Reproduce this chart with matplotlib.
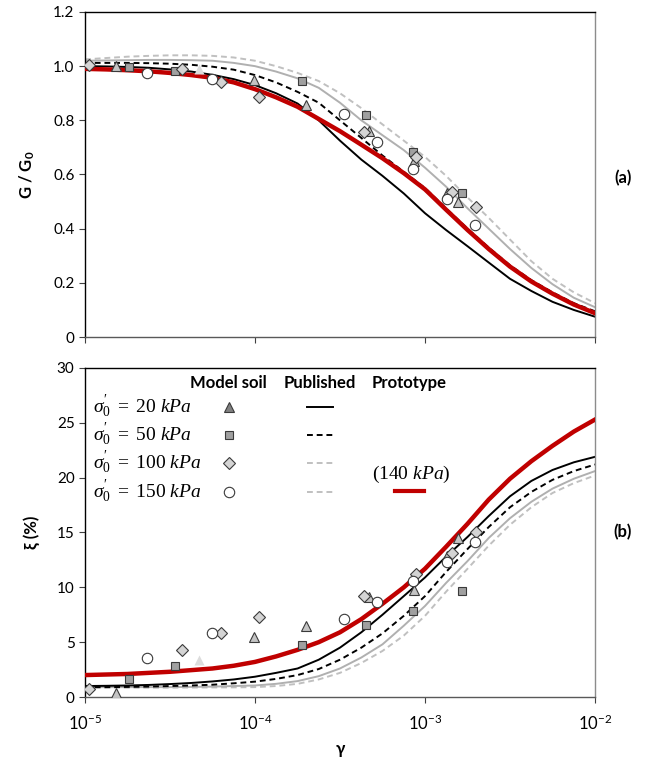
import numpy as np
import matplotlib
matplotlib.use("Agg")
import matplotlib.pyplot as plt

plt.rcParams['font.family'] = ['Lato', 'DejaVu Sans']
plt.rcParams['mathtext.fontset'] = 'custom'
plt.rcParams['mathtext.rm'] = 'Liberation Serif'
plt.rcParams['mathtext.it'] = 'Liberation Serif:italic'
plt.rcParams['mathtext.bf'] = 'Lato:bold'

# ---- data -------------------------------------------------------------
# strain grid for the published / prototype curves (1/8 decades)
gam_curve = [1e-5, 1.33e-5, 1.78e-5, 2.37e-5, 3.16e-5, 4.22e-5, 5.62e-5, 7.5e-5,
             1e-4, 1.33e-4, 1.78e-4, 2.37e-4, 3.16e-4, 4.22e-4, 5.62e-4, 7.5e-4,
             1e-3, 1.33e-3, 1.78e-3, 2.37e-3, 3.16e-3, 4.22e-3, 5.62e-3, 7.5e-3, 1e-2]

# G/G0 curves
g_pub20 = [1.000, 0.999, 0.997, 0.994, 0.988, 0.980, 0.968, 0.952, 0.930, 0.900,
           0.862, 0.800, 0.725, 0.655, 0.595, 0.530, 0.457, 0.395, 0.335, 0.275,
           0.215, 0.170, 0.130, 0.100, 0.075]
g_pub50 = [1.012, 1.012, 1.012, 1.011, 1.009, 1.005, 0.998, 0.987, 0.967, 0.940,
           0.905, 0.865, 0.800, 0.735, 0.670, 0.610, 0.550, 0.475, 0.400, 0.330,
           0.265, 0.210, 0.165, 0.125, 0.095]
g_pub100 = [1.020, 1.021, 1.022, 1.023, 1.023, 1.022, 1.020, 1.012, 1.000, 0.980,
            0.955, 0.920, 0.865, 0.800, 0.745, 0.690, 0.625, 0.555, 0.475, 0.400,
            0.325, 0.255, 0.195, 0.145, 0.110]
g_pub150 = [1.025, 1.030, 1.035, 1.038, 1.040, 1.040, 1.038, 1.032, 1.020, 1.000,
            0.975, 0.945, 0.900, 0.845, 0.785, 0.725, 0.665, 0.595, 0.515, 0.440,
            0.360, 0.280, 0.215, 0.165, 0.125]
g_proto = [0.990, 0.988, 0.985, 0.981, 0.975, 0.967, 0.957, 0.940, 0.915, 0.885,
           0.850, 0.805, 0.760, 0.710, 0.660, 0.605, 0.545, 0.470, 0.395, 0.325,
           0.260, 0.205, 0.160, 0.120, 0.088]

# damping curves (%)
d_pub20 = [1.0, 1.02, 1.05, 1.1, 1.18, 1.28, 1.42, 1.6, 1.85, 2.2, 2.6, 3.4, 4.5,
           5.9, 7.5, 9.2, 10.9, 12.8, 14.6, 16.5, 18.3, 19.7, 20.7, 21.4, 21.9]
d_pub50 = [0.9, 0.9, 0.92, 0.95, 1.0, 1.05, 1.12, 1.25, 1.4, 1.65, 2.0, 2.55, 3.4,
           4.5, 5.8, 7.4, 9.2, 11.4, 13.5, 15.5, 17.3, 18.7, 19.8, 20.6, 21.2]
d_pub100 = [0.9, 0.9, 0.9, 0.9, 0.9, 0.92, 0.95, 1.0, 1.05, 1.2, 1.45, 1.9, 2.6,
            3.6, 4.8, 6.5, 8.3, 10.4, 12.4, 14.5, 16.3, 17.8, 19.0, 19.9, 20.6]
d_pub150 = [0.85, 0.85, 0.85, 0.85, 0.85, 0.86, 0.87, 0.88, 0.9, 1.0, 1.2, 1.6, 2.2,
            3.1, 4.2, 5.6, 7.4, 9.6, 11.7, 13.8, 15.7, 17.3, 18.6, 19.5, 20.2]
d_proto = [2.0, 2.05, 2.1, 2.2, 2.3, 2.45, 2.6, 2.85, 3.2, 3.7, 4.3, 5.0, 5.9,
           7.1, 8.5, 10.0, 11.7, 13.7, 15.8, 18.0, 19.9, 21.5, 22.9, 24.2, 25.3]

# model soil tests
gam_s20 = [1.53e-5, 9.85e-5, 2.0e-4, 4.68e-4, 8.6e-4, 1.35e-3, 1.56e-3]
g_s20 = [1.0, 0.949, 0.857, 0.761, 0.648, 0.53, 0.497]
d_s20 = [0.35, 5.5, 6.45, 9.1, 9.8, 12.9, 14.5]

gam_s50 = [1.81e-5, 3.37e-5, 1.88e-4, 4.5e-4, 8.5e-4, 1.65e-3]
g_s50 = [0.998, 0.982, 0.945, 0.82, 0.684, 0.53]
d_s50 = [1.6, 2.8, 4.7, 6.6, 7.8, 9.7]

gam_s100 = [1.06e-5, 3.74e-5, 6.28e-5, 1.06e-4, 4.37e-4, 8.9e-4, 1.45e-3, 2.0e-3]
g_s100 = [1.004, 0.99, 0.943, 0.885, 0.756, 0.666, 0.534, 0.481]
d_s100 = [0.7, 4.3, 5.8, 7.3, 9.2, 11.2, 13.1, 15.0]

gam_s150 = [2.3e-5, 5.58e-5, 3.33e-4, 5.23e-4, 8.45e-4, 1.34e-3, 1.98e-3]
g_s150 = [0.976, 0.951, 0.823, 0.721, 0.62, 0.51, 0.414]
d_s150 = [3.6, 5.8, 7.15, 8.7, 10.6, 12.3, 14.1]

# faint extra point
gam_faint = [4.7e-5]
g_faint = [0.99]
d_faint = [3.4]

legend_labels = [r"$\sigma_0'\ =\ 20\ kPa$", r"$\sigma_0'\ =\ 50\ kPa$",
                 r"$\sigma_0'\ =\ 100\ kPa$", r"$\sigma_0'\ =\ 150\ kPa$"]
xticks = [1e-5, 1e-4, 1e-3, 1e-2]
xticklabels = [r"$\mathregular{10^{-5}}$", r"$\mathregular{10^{-4}}$",
               r"$\mathregular{10^{-3}}$", r"$\mathregular{10^{-2}}$"]
g_ticks = [0, 0.2, 0.4, 0.6, 0.8, 1.0, 1.2]
g_ticklabels = ["0", "0.2", "0.4", "0.6", "0.8", "1.0", "1.2"]
d_ticks = [0, 5, 10, 15, 20, 25, 30]

# ---- styles -----------------------------------------------------------
RED = '#c00000'
GRAY1 = '#b0b0b0'
GRAY2 = '#c0c0c0'
EDGE = '#3a3a3a'
curve_styles = [
    dict(color='black', lw=1.4, ls='-'),
    dict(color='black', lw=1.4, ls=(0, (3, 2))),
    dict(color=GRAY1, lw=1.4, ls='-'),
    dict(color=GRAY2, lw=1.4, ls=(0, (3, 2))),
]
marker_styles = [
    dict(marker='^', ms=7.5, mfc='#c4c4c4', mec=EDGE, mew=0.8),
    dict(marker='s', ms=6, mfc='#a0a0a0', mec=EDGE, mew=0.8),
    dict(marker='D', ms=6, mfc='#d4d4d4', mec=EDGE, mew=0.8),
    dict(marker='o', ms=7.5, mfc='white', mec=EDGE, mew=0.8),
]

fig = plt.figure(figsize=(6.46, 7.63), dpi=100)
ax1 = fig.add_axes([0.1316, 0.5583, 0.7895, 0.426])
ax2 = fig.add_axes([0.1316, 0.0865, 0.7895, 0.4312])

g_curves = [g_pub20, g_pub50, g_pub100, g_pub150]
d_curves = [d_pub20, d_pub50, d_pub100, d_pub150]
soil = [(gam_s20, g_s20, d_s20), (gam_s50, g_s50, d_s50),
        (gam_s100, g_s100, d_s100), (gam_s150, g_s150, d_s150)]

for ax, curves, proto, idx in [(ax1, g_curves, g_proto, 1), (ax2, d_curves, d_proto, 2)]:
    for c, st in zip(curves[::-1], curve_styles[::-1]):
        ax.plot(gam_curve, c, zorder=2, **st)
    ax.plot(gam_curve, proto, color=RED, lw=3.2, zorder=3)
    yfaint = g_faint if idx == 1 else d_faint
    ax.plot(gam_faint, yfaint, ls='none', marker='^', ms=7.5, mfc='#dcdcdc',
            mec='none', zorder=4)
    for (gx, gy, dy), ms in zip(soil, marker_styles):
        ax.plot(gx, gy if idx == 1 else dy, ls='none', zorder=5, **ms)

    ax.set_xscale('log')
    ax.set_xlim(1e-5, 1e-2)
    ax.set_xticks(xticks)
    ax.minorticks_off()
    ax.tick_params(direction='out', length=4, width=0.8, labelsize=11,
                   colors='#404040', labelcolor='black')
    ax.spines['left'].set_color('black')
    ax.spines['top'].set_color('black')
    ax.spines['right'].set_color('#8c8c8c')
    ax.spines['bottom'].set_color('#595959')
    for s in ax.spines.values():
        s.set_linewidth(1.0)

ax1.set_ylim(0, 1.2)
ax1.set_yticks(g_ticks)
ax1.set_yticklabels(g_ticklabels)
ax1.set_xticklabels([])
ax1.set_ylabel(r"G / G$_\mathbf{0}$", fontsize=12, fontweight='bold')
ax1.yaxis.set_label_coords(-0.094, 0.5)

ax2.set_ylim(0, 30)
ax2.set_yticks(d_ticks)
ax2.set_xticklabels(xticklabels, fontsize=12)
ax2.tick_params(axis='x', pad=8)
ax2.set_ylabel("ξ (%)", fontsize=12, fontweight='bold')
ax2.yaxis.set_label_coords(-0.088, 0.5)
ax2.set_xlabel("γ", fontsize=12, fontweight='bold')
ax2.xaxis.set_label_coords(0.5, -0.135)

fig.text(0.964, 0.767, "(a)", fontsize=12, fontweight='bold', ha='center', va='center')
fig.text(0.964, 0.302, "(b)", fontsize=12, fontweight='bold', ha='center', va='center')

# ---- table-style legend ----------------------------------------------
tr = ax2.transAxes
head_y = 0.954
row_y = [0.881, 0.796, 0.711, 0.623]
col_lab, col_mark, col_pub, col_proto = 0.016, 0.282, 0.461, 0.636
for x, t in [(col_mark, "Model soil"), (col_pub, "Published"), (col_proto, "Prototype")]:
    ax2.text(x, head_y, t, transform=tr, ha='center', va='center',
             fontsize=12, fontweight='bold')
leg_marks = [dict(marker_styles[0], mfc='#808080'), marker_styles[1],
             marker_styles[2], marker_styles[3]]
leg_lines = [curve_styles[0], curve_styles[1],
             dict(curve_styles[3]), dict(curve_styles[3])]
for y, lab, mk, ln in zip(row_y, legend_labels, leg_marks, leg_lines):
    ax2.text(col_lab, y, lab, transform=tr, ha='left', va='center', fontsize=14)
    ax2.plot([col_mark], [y], transform=tr, ls='none', clip_on=False, **mk)
    ax2.plot([col_pub - 0.026, col_pub + 0.026], [y, y], transform=tr, **ln)
ax2.text(col_proto + 0.004, 0.675, r"$(140\ kPa)$", transform=tr, ha='center',
         va='center', fontsize=14)
ax2.plot([col_proto - 0.028, col_proto + 0.028], [0.626, 0.626], transform=tr,
         color=RED, lw=3.0)

fig.savefig("out.png", dpi=100)
